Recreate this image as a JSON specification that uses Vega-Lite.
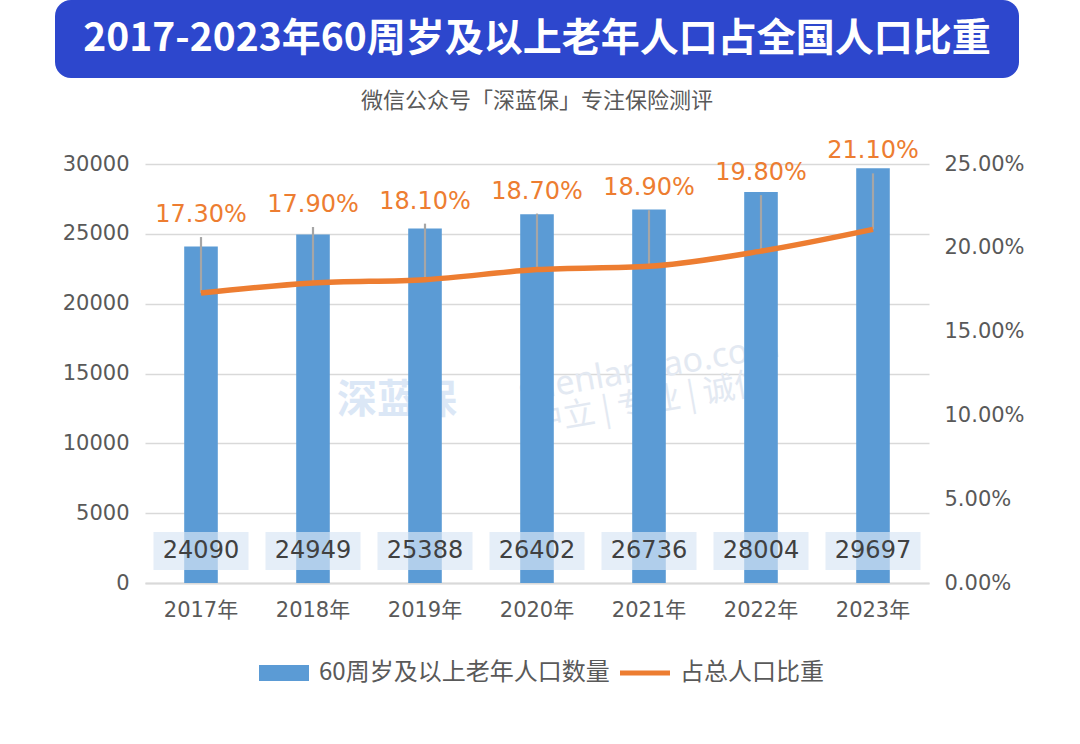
{
  "$schema": "https://vega.github.io/schema/vega-lite/v6.json",
  "background": "white",
  "padding": {"left": 55, "top": 0, "right": 0, "bottom": 0},
  "spacing": 86,
  "center": true,
  "bounds": "flush",
  "config": {
    "font": "'DejaVu Sans', 'Noto Sans CJK SC'",
    "view": {"stroke": null}
  },
  "vconcat": [
    {
      "width": 964,
      "height": 78,
      "view": {"fill": "#2d47cd", "stroke": null, "cornerRadius": 16},
      "data": {"values": [{"title": "2017-2023年60周岁及以上老年人口占全国人口比重"}]},
      "mark": {"type": "text", "font": "Noto Sans CJK SC", "fontWeight": "bold", "fontSize": 39, "color": "white", "baseline": "middle", "align": "center"},
      "encoding": {"text": {"field": "title"}}
    },
    {
      "width": 784,
      "height": 419,
      "title": {"text": "微信公众号「深蓝保」专注保险测评", "font": "Noto Sans CJK SC", "fontSize": 22, "fontWeight": "normal", "color": "#595959", "anchor": "middle", "offset": 26},
      "data": {"values": [
        {"year": "2017年", "count": 24090, "pct": 0.173},
        {"year": "2018年", "count": 24949, "pct": 0.179},
        {"year": "2019年", "count": 25388, "pct": 0.181},
        {"year": "2020年", "count": 26402, "pct": 0.187},
        {"year": "2021年", "count": 26736, "pct": 0.189},
        {"year": "2022年", "count": 28004, "pct": 0.198},
        {"year": "2023年", "count": 29697, "pct": 0.211}
      ]},
      "encoding": {
        "x": {
          "field": "year", "type": "ordinal", "sort": null,
          "scale": {"domain": ["2017年", "2018年", "2019年", "2020年", "2021年", "2022年", "2023年"], "paddingInner": 0, "paddingOuter": 0},
          "axis": {"title": null, "labelAngle": 0, "labelFontSize": 21, "labelColor": "#595959", "labelPadding": 16, "ticks": false, "domainColor": "#d9d9d9", "domainWidth": 2}
        }
      },
      "layer": [
        {
          "layer": [
            {
              "data": {"values": [{"wm": "shenlanbao.com"}]},
              "mark": {"type": "text", "fontSize": 34, "color": "#e3e9f2", "angle": 350, "font": "Noto Sans"},
              "encoding": {
                "x": {"datum": "2021年", "type": "ordinal"},
                "y": {"datum": 15300, "type": "quantitative",
                  "axis": {"orient": "left", "title": null, "values": [0, 5000, 10000, 15000, 20000, 25000, 30000], "format": "d", "labelFontSize": 21, "labelColor": "#595959", "labelPadding": 16, "ticks": false, "domain": false, "grid": true, "gridColor": "#d9d9d9", "gridWidth": 1.5}},
                "text": {"field": "wm"}
              }
            },
            {
              "data": {"values": [{"wm": "中立 | 专业 | 诚信"}]},
              "mark": {"type": "text", "fontSize": 32, "color": "#e3e9f2", "angle": 350, "font": "Noto Sans CJK SC"},
              "encoding": {
                "x": {"datum": "2021年", "type": "ordinal"},
                "y": {"datum": 12900, "type": "quantitative",
                  "axis": {"orient": "left", "title": null, "values": [0, 5000, 10000, 15000, 20000, 25000, 30000], "format": "d", "labelFontSize": 21, "labelColor": "#595959", "labelPadding": 16, "ticks": false, "domain": false, "grid": true, "gridColor": "#d9d9d9", "gridWidth": 1.5}},
                "text": {"field": "wm"}
              }
            },
            {
              "data": {"values": [{"wm": "深蓝保"}]},
              "mark": {"type": "text", "fontSize": 40, "fontWeight": "bold", "color": "#dbe7f6", "font": "Noto Sans CJK SC", "dx": -28},
              "encoding": {
                "x": {"datum": "2019年", "type": "ordinal"},
                "y": {"datum": 13000, "type": "quantitative",
                  "axis": {"orient": "left", "title": null, "values": [0, 5000, 10000, 15000, 20000, 25000, 30000], "format": "d", "labelFontSize": 21, "labelColor": "#595959", "labelPadding": 16, "ticks": false, "domain": false, "grid": true, "gridColor": "#d9d9d9", "gridWidth": 1.5}},
                "text": {"field": "wm"}
              }
            },
            {
              "mark": {"type": "bar", "width": {"band": 0.3}},
              "encoding": {
                "y": {
                  "field": "count", "type": "quantitative",
                  "scale": {"domain": [0, 30000], "nice": false},
                  "axis": {"orient": "left", "title": null, "values": [0, 5000, 10000, 15000, 20000, 25000, 30000], "format": "d", "labelFontSize": 21, "labelColor": "#595959", "labelPadding": 16, "ticks": false, "domain": false, "grid": true, "gridColor": "#d9d9d9", "gridWidth": 1.5}
                },
                "color": {
                  "datum": "60周岁及以上老年人口数量", "type": "nominal",
                  "scale": {"domain": ["60周岁及以上老年人口数量", "占总人口比重"], "range": ["#5b9bd5", "#ed7d31"]},
                  "legend": {
                    "orient": "none", "legendX": 204, "legendY": 648, "direction": "horizontal", "title": null,
                    "labelFont": "Noto Sans CJK SC", "labelFontSize": 24, "labelColor": "#595959", "labelLimit": 0,
                    "symbolSize": 2500, "labelOffset": 10, "columnPadding": 10,
                    "encode": {"symbols": {"update": {
                      "shape": {"signal": "datum.value === '占总人口比重' ? 'M-1,-0.1H1V0.1H-1Z' : 'M-1,-0.32H1V0.32H-1Z'"},
                      "fill": {"signal": "datum.value === '占总人口比重' ? '#ed7d31' : '#5b9bd5'"},
                      "stroke": {"value": "transparent"},
                      "strokeWidth": {"value": 0},
                      "opacity": {"value": 1}
                    }}}
                  }
                }
              }
            },
            {
              "mark": {"type": "bar", "width": 95, "color": "#d9e6f5", "opacity": 0.68},
              "encoding": {
                "y": {"datum": 3650, "type": "quantitative",
                  "axis": {"orient": "left", "title": null, "values": [0, 5000, 10000, 15000, 20000, 25000, 30000], "format": "d", "labelFontSize": 21, "labelColor": "#595959", "labelPadding": 16, "ticks": false, "domain": false, "grid": true, "gridColor": "#d9d9d9", "gridWidth": 1.5}},
                "y2": {"datum": 930}
              }
            },
            {
              "mark": {"type": "text", "fontSize": 24, "color": "#404040", "baseline": "middle"},
              "encoding": {
                "y": {"datum": 2290, "type": "quantitative",
                  "axis": {"orient": "left", "title": null, "values": [0, 5000, 10000, 15000, 20000, 25000, 30000], "format": "d", "labelFontSize": 21, "labelColor": "#595959", "labelPadding": 16, "ticks": false, "domain": false, "grid": true, "gridColor": "#d9d9d9", "gridWidth": 1.5}},
                "text": {"field": "count", "type": "quantitative", "format": "d"}
              }
            }
          ]
        },
        {
          "encoding": {
            "y": {
              "field": "pct", "type": "quantitative",
              "scale": {"domain": [0, 0.25], "nice": false},
              "axis": {"orient": "right", "title": null, "values": [0, 0.05, 0.1, 0.15, 0.2, 0.25], "format": ".2%", "labelFontSize": 21, "labelColor": "#595959", "labelPadding": 15, "ticks": false, "domain": false, "grid": false}
            }
          },
          "layer": [
            {
              "mark": {"type": "rule", "color": "#a6a6a6", "strokeWidth": 2.2, "y2Offset": -56},
              "encoding": {"y2": {"field": "pct"}}
            },
            {
              "mark": {"type": "line", "strokeWidth": 5.5, "interpolate": "monotone"},
              "encoding": {"color": {"datum": "占总人口比重", "type": "nominal"}}
            },
            {
              "mark": {"type": "text", "fontSize": 24, "color": "#ed7d31", "baseline": "middle", "dy": -78},
              "encoding": {"text": {"field": "pct", "type": "quantitative", "format": ".2%"}}
            }
          ]
        }
      ],
      "resolve": {"scale": {"y": "independent"}}
    }
  ]
}
